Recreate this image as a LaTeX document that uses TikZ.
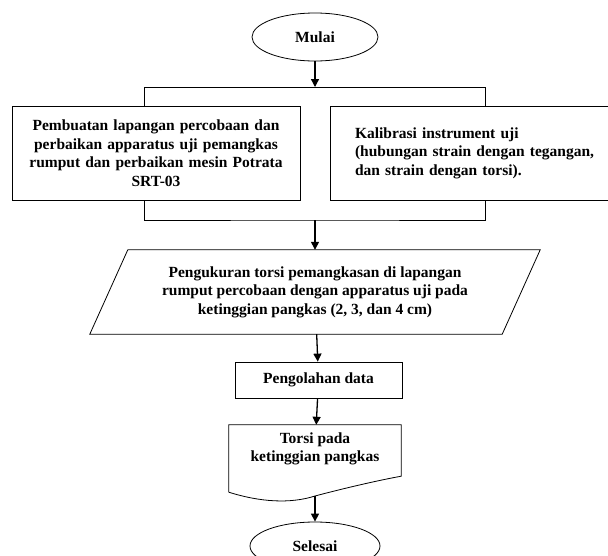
\documentclass[tikz,border=0pt]{standalone}
\usepackage{fontspec}
\setmainfont{Liberation Serif}
\usetikzlibrary{shapes.geometric,arrows.meta}
\tikzset{
	teks/.style={font=\fontsize{15.5}{18.5}\selectfont\bfseries},
	terminal/.style={teks,draw,ellipse,line width=0.8pt,minimum width=126pt,minimum height=48pt,inner sep=0pt},
	proses/.style={teks,draw,rectangle,line width=0.8pt,align=center},
	masukan/.style={teks,align=center,minimum width=412pt,minimum height=84pt,inner sep=0pt},
	dokumen/.style={teks,align=center,minimum width=172pt,minimum height=48pt,inner sep=0pt},
	panah/.style={line width=1.3pt,-{Triangle[width=8pt,length=8pt]}},
	garis/.style={line width=0.8pt}
}
\begin{document}
\begin{tikzpicture}[x=1pt,y=-1pt]
		\useasboundingbox (0,0) rectangle (608,555);
		\node[terminal] (mulai) at (315,37) {Mulai};
		\node[proses,text width=262pt,minimum width=288pt,minimum height=94pt,inner xsep=13pt] (kiri) at (156,153)
		{Pembuatan lapangan percobaan dan\\ perbaikan apparatus uji pemangkas\\ rumput dan perbaikan mesin Potrata\\ SRT-03};
		\node[proses,align=left,text width=240pt,minimum height=94pt,inner xsep=25pt] (kanan) at (475,153)
		{Kalibrasi instrument uji\\ (hubungan strain dengan tegangan,\\ dan strain dengan torsi).};
		\node[masukan] (ukur) at (315,292)
		{Pengukuran torsi pemangkasan di lapangan\\ rumput percobaan dengan apparatus uji pada\\ ketinggian pangkas (2, 3, dan 4 cm)};
		\node[proses,minimum width=167pt,minimum height=36pt] (olah) at (318.5,380) {Pengolahan data};
		\node[dokumen] (hasil) at (315,449) {Torsi pada\\ ketinggian pangkas};
		\node[terminal,minimum width=130pt] (selesai) at (315,546) {Selesai};
		% jajaran genjang untuk data masukan
		\draw[garis] ([xshift=-19pt]ukur.south west) -- ([xshift=19pt]ukur.north west) -- ([xshift=19pt]ukur.north east) -- ([xshift=-19pt]ukur.south east) -- cycle;
		% cabang ke dua kotak
		\coordinate (cabang) at (315,87);
		\draw[garis] ([xshift=-12pt]kiri.north) |- ([xshift=10pt]kanan.north |- cabang) -- ([xshift=10pt]kanan.north);
		\draw[panah] (mulai) -- (cabang);
		% gabung dari dua kotak
		\coordinate (gabung) at (315,220);
		\draw[garis] ([xshift=-12pt]kiri.south) |- (gabung) -| ([xshift=10pt]kanan.south);
		\draw[panah] (gabung) -- (ukur.north);
		\draw[panah] (ukur) -- (olah);
		\draw[panah] (olah) -- (hasil);
		% bentuk dokumen
		\draw[garis] ([yshift=-19pt]hasil.south west) -- (hasil.north west) -- (hasil.north east) -- ([yshift=-3pt]hasil.south east)
		.. controls (380,480) and (345,488) .. (315,496) .. controls (290,504) and (260,502) .. ([yshift=-19pt]hasil.south west);
		\coordinate (ujung) at (315,496);
		\draw[panah] (ujung) -- (selesai);
	\end{tikzpicture}
\end{document}
